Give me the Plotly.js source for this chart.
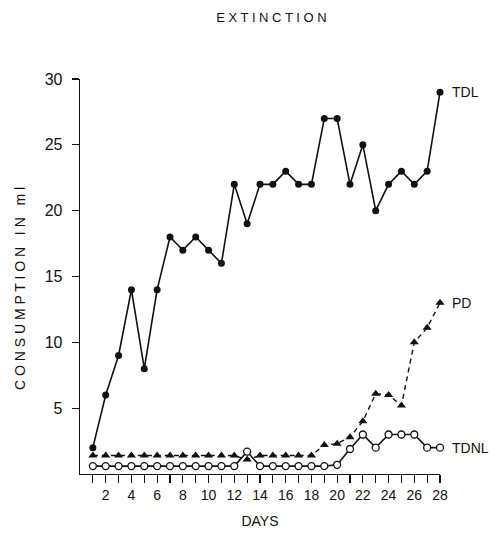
<!DOCTYPE html>
<html>
<head>
<meta charset="utf-8">
<script src="https://cdn.plot.ly/plotly-3.0.1.min.js"></script>
<style>html,body{margin:0;padding:0;background:#fff;}#chart{width:498px;height:536px;}</style>
</head>
<body>
<div id="chart"></div>
<script>
const days = [1,2,3,4,5,6,7,8,9,10,11,12,13,14,15,16,17,18,19,20,21,22,23,24,25,26,27,28];
const tdl  = [2,6,9,14,8,14,18,17,18,17,16,22,19,22,22,23,22,22,27,27,22,25,20,22,23,22,23,29];
const pd   = [1.4,1.4,1.4,1.4,1.4,1.4,1.4,1.4,1.4,1.4,1.4,1.4,1.1,1.4,1.4,1.4,1.4,1.4,2.2,2.3,2.8,4,6.1,6,5.2,10,11.1,13];
const tdnl = [0.6,0.6,0.6,0.6,0.6,0.6,0.6,0.6,0.6,0.6,0.6,0.6,1.7,0.6,0.6,0.6,0.6,0.6,0.6,0.7,1.9,3,2,3,3,3,2,2];
const xTickVals = days;
const xTickText = days.map(d => d % 2 === 0 ? String(d) : '');
const yTickVals = [5,10,15,20,25,30];
const seriesLabels = ['TDL','PD','TDNL'];

const font = 'Liberation Sans, Arial, sans-serif';
const traces = [
  {x: days, y: tdl, mode: 'lines+markers', line: {color: '#111', width: 1.6},
   marker: {symbol: 'circle', size: 7, color: '#111'}, cliponaxis: false},
  {x: days, y: pd, mode: 'lines+markers', line: {color: '#111', width: 1.4, dash: '5px,4px'},
   marker: {symbol: 'triangle-up', size: 8, color: '#111'}, cliponaxis: false},
  {x: days, y: tdnl, mode: 'lines+markers', line: {color: '#111', width: 1.6},
   marker: {symbol: 'circle', size: 7, color: '#fff', line: {color: '#111', width: 1.3}}, cliponaxis: false}
];
const last = days.length - 1;
const ends = [tdl[last], pd[last], tdnl[last]];
const annotations = seriesLabels.map((t, i) => ({
  x: days[last], y: ends[i], xref: 'x', yref: 'y', text: t, showarrow: false,
  xanchor: 'left', xshift: 10, font: {family: font, size: 14, color: '#111'}
}));
annotations.push({
  xref: 'paper', yref: 'paper', x: -0.1667, y: 0.471, xanchor: 'center', yanchor: 'middle',
  textangle: -90, showarrow: false,
  text: 'C O N S U M P T I O N &nbsp; I N &nbsp; m l',
  font: {family: font, size: 14, color: '#111'}
});
const layout = {
  width: 498, height: 536,
  margin: {l: 80, r: 58, t: 79, b: 62},
  paper_bgcolor: '#fff', plot_bgcolor: '#fff',
  showlegend: false,
  title: {text: 'E X T I N C T I O N', x: 0.545, xanchor: 'center', y: 0.968, yanchor: 'middle',
          font: {family: font, size: 13, color: '#111'}},
  xaxis: {range: [0, 28], tickmode: 'array', tickvals: xTickVals, ticktext: xTickText,
          ticks: 'outside', ticklen: 8, tickwidth: 1.2, tickcolor: '#111',
          showline: true, linecolor: '#111', linewidth: 1.3, showgrid: false, zeroline: false,
          tickfont: {family: font, size: 14, color: '#111'},
          title: {text: 'DAYS', font: {family: font, size: 14, color: '#111'}, standoff: 14}},
  yaxis: {range: [0, 30], tickmode: 'array', tickvals: yTickVals,
          ticks: 'outside', ticklen: 7, tickwidth: 1.2, tickcolor: '#111', ticklabelstandoff: 6,
          showline: true, linecolor: '#111', linewidth: 1.3, showgrid: false, zeroline: false,
          tickfont: {family: font, size: 16, color: '#111'}},
  annotations: annotations
};
Plotly.newPlot('chart', traces, layout, {displayModeBar: false, staticPlot: true});
</script>
</body>
</html>
